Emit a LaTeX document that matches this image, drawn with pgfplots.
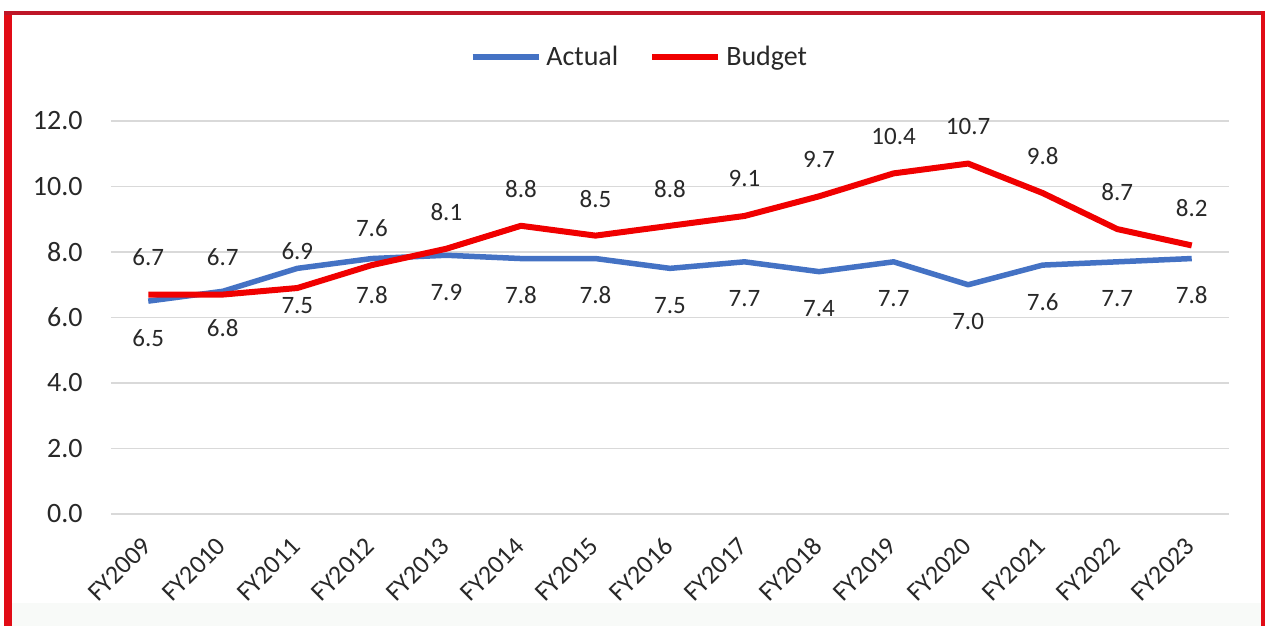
\documentclass[border=0pt]{standalone}
\usepackage{fontspec}
\setmainfont{Carlito}
\usepackage{pgfplots}
\usepackage{pgfplotstable}
\pgfplotsset{compat=1.18}
\definecolor{actualblue}{RGB}{68,114,196}
\definecolor{budgetred}{RGB}{240,0,0}
\definecolor{gridgray}{RGB}{217,217,217}
\definecolor{txt}{RGB}{40,40,40}
\definecolor{frameRed}{RGB}{225,12,22}
\definecolor{frameTop}{RGB}{190,22,40}
\definecolor{stripc}{RGB}{248,250,248}

\pgfplotstableread{
x actual budget
0 6.5 6.7
1 6.8 6.7
2 7.5 6.9
3 7.8 7.6
4 7.9 8.1
5 7.8 8.8
6 7.8 8.5
7 7.5 8.8
8 7.7 9.1
9 7.4 9.7
10 7.7 10.4
11 7.0 10.7
12 7.6 9.8
13 7.7 8.7
14 7.8 8.2
}\datatable

\begin{document}
\begin{tikzpicture}
\path[use as bounding box] (0,0) rectangle (632.5pt,313pt);
\fill[stripc] (5.5pt,0) rectangle (630.5pt,11.5pt);
\begin{axis}[
  at={(55.5pt,56pt)}, anchor=south west,
  scale only axis, width=559pt, height=196.5pt,
  xmin=-0.5, xmax=14.5, ymin=0, ymax=12,
  clip=false,
  xtick={0,...,14},
  xticklabels={FY2009,FY2010,FY2011,FY2012,FY2013,FY2014,FY2015,FY2016,FY2017,FY2018,FY2019,FY2020,FY2021,FY2022,FY2023},
  ytick={0,2,4,6,8,10,12},
  ymajorgrids, grid style={gridgray, line width=0.6pt},
  axis line style={draw=none},
  major tick length=0pt,
  /pgf/number format/assume math mode=true,
  yticklabel style={/pgf/number format/.cd, fixed, fixed zerofill, precision=1, /tikz/.cd,
    font=\fontsize{14}{16}\selectfont, text=txt, inner sep=0pt, anchor=east, xshift=-14pt},
  xticklabel style={font=\fontsize{13}{15}\selectfont, text=txt, inner sep=0pt,
    xshift=-0.6pt, yshift=-13.8pt, rotate=45, anchor=east},
  nodes near coords={\pgfmathprintnumber[fixed,fixed zerofill,precision=1,assume math mode=true]{\pgfplotspointmeta}},
  nodes near coords align={center},
  every node near coord/.append style={font=\fontsize{12.5}{14}\selectfont, text=txt, anchor=center},
  legend style={at={(rel axis cs:0.474,1.163)}, anchor=center, draw=none, fill=none,
    legend columns=2, font=\fontsize{14}{16}\selectfont, text=txt,
    /tikz/every even column/.append style={column sep=13pt},
    inner sep=0pt, nodes={inner sep=2.5pt}},
  legend image code/.code={\draw[#1, line cap=butt] (0pt,0pt) -- (33pt,0pt);},
]
\addplot[actualblue, line width=2.75pt, line join=round, mark=none,
  every node near coord/.append style={yshift=-18.5pt}]
  table[x=x, y=actual]{\datatable};
\addlegendentry{Actual}
\addplot[budgetred, line width=3pt, line join=round, mark=none,
  every node near coord/.append style={yshift=18.5pt}]
  table[x=x, y=budget]{\datatable};
\addlegendentry{Budget}
\end{axis}
\fill[frameRed] (2pt,0) rectangle (5.8pt,307.5pt);
\fill[frameTop] (2pt,305.5pt) rectangle (632.5pt,307.5pt);
\fill[frameRed] (630.5pt,0) rectangle (632.5pt,307.5pt);
\end{tikzpicture}
\end{document}
